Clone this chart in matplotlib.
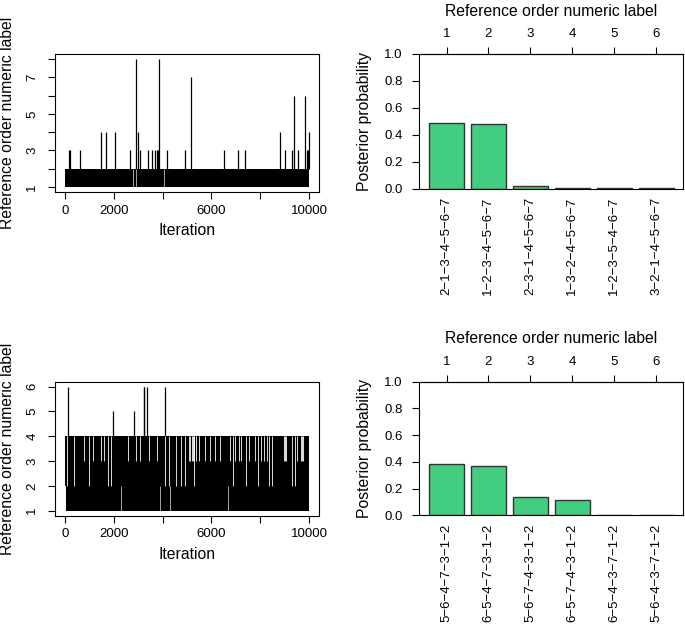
"""Trace plots and posterior bar charts of reference orders (two chains)."""

import numpy as np
import matplotlib
matplotlib.use("Agg")
import matplotlib.pyplot as plt

plt.rcParams["font.family"] = ["Liberation Sans", "DejaVu Sans"]

# --- chain 1 trace: dense band between 1 and 2, plus excursions ---
TRACE1_BAND = (1, 2)
TRACE1_SPIKE_ITER = [164, 232, 627, 1500, 1705, 2073, 2687, 2919, 2980, 3069,
                     3410, 3574, 3683, 3780, 3830, 3860, 4174, 4924, 5183, 6506,
                     7079, 7366, 8798, 8989, 9275, 9371, 9548, 9821, 9889, 9930,
                     9990]
TRACE1_SPIKE_VAL = [3, 3, 3, 4, 4, 4, 3, 8, 4, 3,
                    3, 3, 3, 3, 3, 8, 3, 3, 7, 3,
                    3, 3, 4, 3, 3, 6, 3, 6, 3, 3,
                    4]
TRACE1_LOW_GAPS = [2800, 2930, 4050]

# --- chain 2 trace: dense band between 1 and 4 with gaps, plus excursions ---
TRACE2_BAND = (1, 4)
TRACE2_SPIKE_ITER = [136, 1978, 2837, 3233, 3260, 3369, 4106]
TRACE2_SPIKE_VAL = [6, 5, 5, 6, 6, 6, 6]
# white gaps from the top of the band (4) down to the given floor
TRACE2_GAP_ITER = [100, 396, 805, 983, 1160, 1488, 1596, 1774, 1897, 2606,
                   2920, 3083, 3425, 3780, 4080, 4256, 4557, 4734, 4898, 5062,
                   5103, 5240, 5267, 5363, 5500, 5717, 5949, 6154, 6331, 6740,
                   6877, 6973, 7108, 7219, 7395, 7546, 7764, 7899, 8009, 8145,
                   8283, 8349, 8488, 8991, 9306, 9400, 9511, 9687]
TRACE2_GAP_FLOOR = [2, 2, 3, 2, 3, 3, 3, 2, 2, 3,
                    3, 3, 3, 3, 2, 2, 2, 2, 2, 3,
                    3, 3, 2, 3, 3, 3, 3, 3, 3, 3,
                    2, 3, 3, 3, 2, 3, 3, 2, 3, 3,
                    3, 2, 2, 3, 2, 2, 3, 3]
TRACE2_GAP_WIDE = [5240, 8991, 9687]
TRACE2_LOW_GAPS = [2319, 3890, 4290, 6665]

# --- posterior probabilities of reference orders ---
NAMES1 = ["2-1-3-4-5-6-7", "1-2-3-4-5-6-7", "2-3-1-4-5-6-7",
          "1-3-2-4-5-6-7", "1-2-3-5-4-6-7", "3-2-1-4-5-6-7"]
PROBS1 = [0.490, 0.481, 0.018, 0.004, 0.002, 0.002]
NAMES2 = ["5-6-4-7-3-1-2", "6-5-4-7-3-1-2", "5-6-7-4-3-1-2",
          "6-5-7-4-3-1-2", "6-5-4-3-7-1-2", "5-6-4-3-7-1-2"]
PROBS2 = [0.384, 0.369, 0.135, 0.112, 0.002, 0.001]
TOP_LABELS = ["1", "2", "3", "4", "5", "6"]

BAR_COLOR = "#43CD80"
TICK_FS = 9.5
LAB_FS = 11.3


def style(ax):
    for s in ax.spines.values():
        s.set_linewidth(0.8)
    ax.tick_params(length=5, width=0.8, labelsize=TICK_FS)


def trace(ax, band, spike_it, spike_val, ylim, yticks, ylabels):
    ax.fill_between([0, 10000], band[0], band[1], color="black", lw=0)
    ax.vlines(spike_it, band[0] + 1 if band[1] == 2 else band[1], spike_val,
              color="black", lw=0.9)
    ax.set_xlim(-400, 10400)
    ax.set_ylim(*ylim)
    ax.set_xticks([0, 2000, 4000, 6000, 8000, 10000],
                  ["0", "2000", "", "6000", "", "10000"])
    ax.set_yticks(yticks, ylabels, rotation=90, va="center")
    ax.set_xlabel("Iteration", fontsize=LAB_FS, labelpad=5)
    ax.set_ylabel("Reference order numeric label", fontsize=LAB_FS, labelpad=8)
    style(ax)
    ax.tick_params(axis="x", pad=4)
    ax.tick_params(axis="y", pad=7)


def bars(ax, names, probs):
    centers = 0.7 + 1.2 * np.arange(len(probs))
    ax.bar(centers, probs, width=1.0, color=BAR_COLOR, edgecolor="#333333", lw=1)
    ax.set_xlim(-0.08, 7.48)
    ax.set_ylim(0, 1)
    ax.set_yticks([0, 0.2, 0.4, 0.6, 0.8, 1.0],
                  ["0.0", "0.2", "0.4", "0.6", "0.8", "1.0"])
    ax.set_xticks(centers, [n.replace("-", "\u2212") for n in names], rotation=90,
                  va="top")
    ax.set_ylabel("Posterior probability", fontsize=LAB_FS, labelpad=9)
    style(ax)
    ax.tick_params(axis="x", length=0, pad=6)
    ax.tick_params(axis="y", pad=7)
    top = ax.secondary_xaxis("top")
    top.set_xticks(centers, TOP_LABELS)
    top.tick_params(length=5, width=0.8, labelsize=TICK_FS, pad=5)
    top.spines["top"].set_linewidth(0.8)
    top.set_xlabel("Reference order numeric label", fontsize=LAB_FS, labelpad=9)


fig = plt.figure(figsize=(6.85, 6.25), dpi=100)

ax1 = fig.add_axes([0.0803, 0.6928, 0.3854, 0.2208])
trace(ax1, TRACE1_BAND, TRACE1_SPIKE_ITER, TRACE1_SPIKE_VAL, (0.72, 8.28),
      range(1, 9), ["1", "", "3", "", "5", "", "7", ""])
ax1.vlines(TRACE1_LOW_GAPS, 1, 2, color="#bbbbbb", lw=0.6)

ax3 = fig.add_axes([0.0803, 0.1749, 0.3854, 0.2144])
trace(ax3, TRACE2_BAND, TRACE2_SPIKE_ITER, TRACE2_SPIKE_VAL, (0.8, 6.2),
      range(1, 7), [str(i) for i in range(1, 7)])
ax3.fill_between([0, 50], 1, 2, color="white", lw=0)
for it, fl in zip(TRACE2_GAP_ITER, TRACE2_GAP_FLOOR):
    w = 2.2 if it in TRACE2_GAP_WIDE else 0.7
    ax3.vlines(it, fl, 4.02, color="white", lw=w, alpha=0.85)
ax3.vlines(TRACE2_LOW_GAPS, 1, 2, color="#bbbbbb", lw=0.6)

ax2 = fig.add_axes([0.6121, 0.6981, 0.3854, 0.2155])
bars(ax2, NAMES1, PROBS1)

ax4 = fig.add_axes([0.6121, 0.1755, 0.3854, 0.2138])
bars(ax4, NAMES2, PROBS2)

fig.savefig("out.png", dpi=100)
